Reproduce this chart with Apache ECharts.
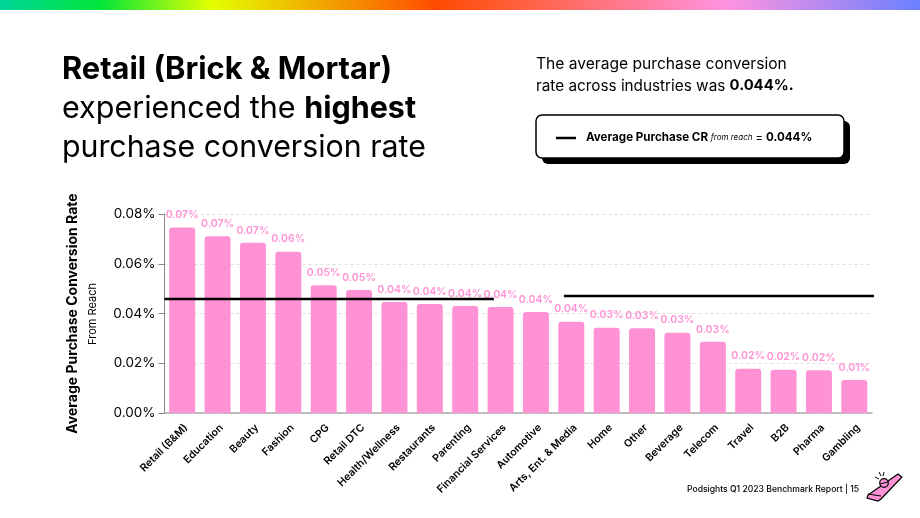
<!DOCTYPE html>
<html>
<head>
    <meta charset="UTF-8">
    <title>Purchase conversion rate</title>
    <script src="https://cdn.jsdelivr.net/npm/echarts@6/dist/echarts.min.js"></script>
    <style>
        html, body { margin: 0; padding: 0; background: #fff; }
        #main { width: 920px; height: 518px; }
    </style>
</head>
<body>
<div id="main"></div>
<script type="text/javascript">
    var categories = ['Retail (B&M)', 'Education', 'Beauty', 'Fashion', 'CPG', 'Retail DTC', 'Health/Wellness',
        'Restaurants', 'Parenting', 'Financial Services', 'Automotive', 'Arts, Ent. & Media', 'Home', 'Other',
        'Beverage', 'Telecom', 'Travel', 'B2B', 'Pharma', 'Gambling'];
    var conversion = [0.0746, 0.0711, 0.0684, 0.0648, 0.0514, 0.0494, 0.0446, 0.0438, 0.0430, 0.0426,
        0.0406, 0.0367, 0.0343, 0.0341, 0.0323, 0.0286, 0.0178, 0.0174, 0.0172, 0.0133];
    var avgLeft = [[0, 0.0458], [9.31, 0.0458]];
    var avgRight = [[11.29, 0.047], [20.06, 0.047]];
    var yTicks = [0, 0.02, 0.04, 0.06, 0.08];

    var font = 'Inter';
    var black = '#000';
    var pink = '#ff92d4';

    var myChart = echarts.init(document.getElementById('main'), null, { renderer: 'canvas' });

    function txt(x, y, text, size, weight) {
        return { type: 'text', style: { x: x, y: y, text: text, fontFamily: font, fontSize: size, fontWeight: weight, fill: black, textVerticalAlign: 'middle' }, z: 10 };
    }

    var option = {
        animation: false,
        backgroundColor: '#fff',
        grid: { left: 164.5, right: 48, top: 214, bottom: 105, containLabel: false },
        xAxis: [
            {
                type: 'category',
                data: categories,
                axisTick: { show: false },
                axisLine: { lineStyle: { color: '#aaa', width: 1.5 } },
                axisLabel: { rotate: 45, interval: 0, fontFamily: font, fontSize: 10.5, fontWeight: 600, color: black, margin: 9, verticalAlign: 'top' }
            },
            { type: 'value', min: 0, max: 20, show: false }
        ],
        yAxis: {
            type: 'value',
            min: yTicks[0],
            max: yTicks[yTicks.length - 1],
            interval: 0.02,
            name: 'Average Purchase Conversion Rate',
            nameLocation: 'middle',
            nameGap: 85,
            nameTextStyle: { fontFamily: font, fontSize: 14, fontWeight: 700, color: black },
            axisLine: { show: true, lineStyle: { color: '#888', width: 1 } },
            axisTick: { show: true, length: 6, lineStyle: { color: '#888' } },
            axisLabel: {
                fontFamily: font, fontSize: 13.5, color: black, margin: 9, padding: [2, 0, 0, 0],
                formatter: function (v) { return v.toFixed(2) + '%'; }
            },
            splitLine: { lineStyle: { color: '#ddd', type: [3, 3], width: 1 } }
        },
        series: [
            {
                type: 'bar',
                data: conversion,
                barWidth: 26,
                itemStyle: { color: pink, borderRadius: [3, 3, 0, 0] },
                label: {
                    show: true, position: 'top', distance: 7, color: pink,
                    fontFamily: font, fontSize: 10.5, fontWeight: 600,
                    formatter: function (p) { return p.value.toFixed(2) + '%'; }
                }
            },
            {
                type: 'line', xAxisIndex: 1, data: avgLeft, symbol: 'none', clip: false, z: 5,
                lineStyle: { color: black, width: 2.5 }
            },
            {
                type: 'line', xAxisIndex: 1, data: avgRight, symbol: 'none', clip: false, z: 5,
                lineStyle: { color: black, width: 2.5 }
            }
        ],
        graphic: [
            {
                type: 'rect', shape: { x: 0, y: 0, width: 920, height: 10 },
                style: {
                    fill: new echarts.graphic.LinearGradient(0, 0, 1, 0, [
                        { offset: 0, color: '#00d59a' },
                        { offset: 0.108, color: '#00e63a' },
                        { offset: 0.23, color: '#e4ff00' },
                        { offset: 0.475, color: '#ff4b00' },
                        { offset: 0.79, color: '#ff94e0' },
                        { offset: 1, color: '#6a80ff' }
                    ])
                }
            },
            {
                type: 'text',
                style: {
                    x: 62, y: 70, text: '{b|Retail (Brick & Mortar)}', fontFamily: font, fontSize: 31, fill: black, textVerticalAlign: 'middle',
                    rich: { b: { fontFamily: font, fontSize: 30.8, fontWeight: 700, fill: black } }
                }
            },
            {
                type: 'text',
                style: {
                    x: 62, y: 109, text: '{n|experienced the }{b|highest}', textVerticalAlign: 'middle',
                    rich: {
                        n: { fontFamily: font, fontSize: 30.5, fontWeight: 400, fill: black },
                        b: { fontFamily: font, fontSize: 30.5, fontWeight: 700, fill: black }
                    }
                }
            },
            txt(62, 148, 'purchase conversion rate', 30.3, 400),
            txt(536, 64, 'The average purchase conversion', 15.6, 400),
            {
                type: 'text',
                style: {
                    x: 536, y: 86, text: '{n|rate across industries was }{b|0.044%.}', textVerticalAlign: 'middle',
                    rich: {
                        n: { fontFamily: font, fontSize: 15.3, fontWeight: 400, fill: black },
                        b: { fontFamily: font, fontSize: 14.8, fontWeight: 700, fill: black }
                    }
                }
            },
            { type: 'rect', shape: { x: 542, y: 121, width: 308, height: 43, r: 6 }, style: { fill: black } },
            { type: 'rect', shape: { x: 536, y: 115, width: 308, height: 43, r: 6 }, style: { fill: '#fff', stroke: black, lineWidth: 1.5 } },
            { type: 'line', shape: { x1: 556, y1: 138, x2: 576, y2: 138 }, style: { stroke: black, lineWidth: 2.5 } },
            {
                type: 'text',
                style: {
                    x: 586, y: 138, text: '{b|Average Purchase CR }{i|from reach}{n| = }{b|0.044%}', textVerticalAlign: 'middle',
                    rich: {
                        b: { fontFamily: font, fontSize: 11.6, fontWeight: 700, fill: black },
                        i: { fontFamily: font, fontSize: 8, fontStyle: 'italic', fill: black },
                        n: { fontFamily: font, fontSize: 11, fill: black }
                    }
                }
            },
            {
                type: 'text', rotation: Math.PI / 2, x: 93, y: 314,
                style: { x: 0, y: 0, text: 'From Reach', fontFamily: font, fontSize: 11, fill: black, align: 'center', verticalAlign: 'middle' }
            },
            txt(687, 489, 'Podsights Q1 2023 Benchmark Report | 15', 8.6, 500),
            // kazoo icon
            {
                type: 'polygon',
                shape: { points: [[868, 495], [898, 474], [902, 477], [881, 499], [878, 501], [867, 498]] },
                style: { fill: '#ff92d4', stroke: black, lineWidth: 1.2 }
            },
            { type: 'line', shape: { x1: 868, y1: 494, x2: 881, y2: 496 }, style: { stroke: black, lineWidth: 1 } },
            { type: 'circle', shape: { cx: 884, cy: 483, r: 4.3 }, style: { fill: '#ff92d4', stroke: black, lineWidth: 1.2 } },
            { type: 'line', shape: { x1: 880, y1: 484, x2: 888, y2: 482 }, style: { stroke: black, lineWidth: 1 } },
            { type: 'line', shape: { x1: 875, y1: 477, x2: 879, y2: 479 }, style: { stroke: black, lineWidth: 1 } },
            { type: 'line', shape: { x1: 879, y1: 472, x2: 881, y2: 476 }, style: { stroke: black, lineWidth: 1 } },
            { type: 'line', shape: { x1: 884, y1: 472, x2: 883, y2: 476 }, style: { stroke: black, lineWidth: 1 } }
        ]
    };
    myChart.setOption(option);
</script>
</body>
</html>
